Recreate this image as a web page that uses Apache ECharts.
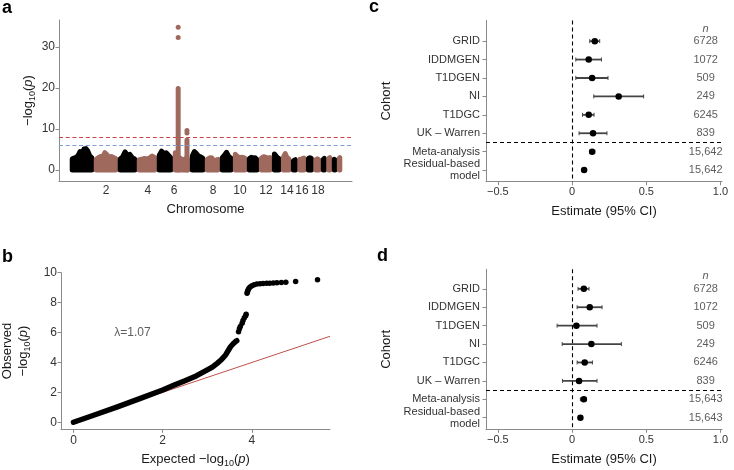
<!DOCTYPE html>
<html>
<head>
<meta charset="utf-8">
<script src="https://cdn.jsdelivr.net/npm/echarts@6/dist/echarts.min.js"></script>
<style>
  html, body { margin: 0; padding: 0; background: #fff; }
  #chart { width: 734px; height: 470px; }
</style>
</head>
<body>
<div id="chart"></div>
<script>
// ---------- a: Manhattan plot ----------
// width of each chromosome on the plot, Mb
const chromLen = [254, 254, 201, 212, 169, 180, 159, 159, 138, 148, 127, 138, 95, 106, 69, 90, 79, 79, 58, 58, 53, 53]
// upper edge of the point cloud along each chromosome, -log10(p)
const chromTops = [
  [2.7, 2.9, 3.1, 3.5, 4.5, 3.9, 5.1, 5.2, 4.6, 3.4, 3.0],
  [2.6, 3.0, 3.3, 3.2, 4.2, 3.7, 3.0, 3.3, 3.0, 2.8],
  [2.7, 3.2, 4.4, 3.6, 3.8, 3.0, 2.7],
  [2.5, 2.6, 2.8, 2.7, 2.9, 3.4, 3.0],
  [3.6, 4.6, 3.9, 4.2, 3.6, 3.0],
  [4.2, 3.4, 3.0, 2.6, 2.4, 2.8, 2.6],
  [3.4, 4.5, 4.0, 3.4, 3.2, 2.9],
  [2.6, 2.9, 3.0, 2.4, 2.3, 2.6],
  [3.0, 3.6, 4.3, 3.3, 2.9],
  [3.8, 3.2, 3.0, 3.1, 2.9],
  [2.8, 3.1, 2.9, 3.0, 2.6],
  [2.9, 3.2, 3.1, 2.9, 3.0],
  [3.9, 3.5, 3.0, 2.8],
  [3.1, 4.0, 3.0, 2.7],
  [2.2, 2.4, 2.5],
  [2.6, 2.7, 2.9],
  [2.8, 3.0, 2.8],
  [2.5, 2.7, 2.5],
  [2.6, 2.8],
  [2.8, 3.0],
  [2.6, 2.5],
  [2.9, 3.0]
]
const chromTickPos = [381, 825, 1101, 1513, 1799, 2074, 2296, 2455, 2624]
const chromTickLabel = ['2', '4', '6', '8', '10', '12', '14', '16', '18']
// chr6 columns and the isolated top hits
const spikePos = [1145, 1238]
const spikeTop = [19.9, 7.3]
const hitPos = [1145, 1145, 1238, 1238]
const hitLogP = [32.3, 34.8, 9.0, 9.6]
const sigLevels = [8, 6]

// ---------- b: QQ plot ----------
const qqExpected = [0, 0.5, 1.0, 1.5, 2.0, 2.26, 2.5, 2.75, 3.0, 3.12, 3.22, 3.32, 3.41, 3.52, 3.58, 3.63, 3.66]
const qqObserved = [0, 0.52, 1.05, 1.6, 2.16, 2.49, 2.78, 3.1, 3.5, 3.7, 3.94, 4.2, 4.5, 5.05, 5.25, 5.39, 5.45]
const tailExpected = [3.70, 3.72, 3.74, 3.78, 3.80, 3.83, 3.86, 3.87, 3.89, 3.90, 3.91, 3.93, 3.96, 4.00, 4.05, 4.11, 4.18, 4.25, 4.33, 4.40, 4.48, 4.56, 4.66, 4.76, 4.98, 5.47]
const tailObserved = [6.06, 6.25, 6.40, 6.62, 6.80, 6.98, 7.12, 7.22, 8.62, 8.72, 8.82, 8.95, 9.05, 9.13, 9.20, 9.24, 9.26, 9.27, 9.29, 9.30, 9.31, 9.33, 9.34, 9.36, 9.42, 9.53]
const lambdaText = 'λ=1.07'

// ---------- c, d: forest plots ----------
const cohorts = ['GRID', 'IDDMGEN', 'T1DGEN', 'NI', 'T1DGC', 'UK – Warren', 'Meta-analysis', 'Residual-based\nmodel']
const estC = [0.153, 0.112, 0.135, 0.314, 0.112, 0.141, 0.135, 0.081]
const loC = [0.119, 0.025, 0.025, 0.146, 0.070, 0.047, 0.119, 0.074]
const hiC = [0.186, 0.198, 0.242, 0.482, 0.148, 0.235, 0.153, 0.088]
const nC = ['6728', '1072', '509', '249', '6245', '839', '15,642', '15,642']
const estD = [0.079, 0.119, 0.029, 0.130, 0.085, 0.047, 0.079, 0.056]
const loD = [0.040, 0.034, -0.101, -0.067, 0.034, -0.065, 0.056, 0.045]
const hiD = [0.114, 0.202, 0.168, 0.332, 0.137, 0.168, 0.097, 0.068]
const nD = ['6728', '1072', '509', '249', '6246', '839', '15,643', '15,643']
const forestTicks = [-0.5, 0, 0.5, 1]
const forestTickLabels = ['−0.5', '0', '0.5', '1.0']

// ---------- styling ----------
const font = 'Liberation Sans'
const axisGray = '#8a8a8a'
const tickText = '#333'
const titleText = '#1a1a1a'
const brown = '#a0695e'
const nColX = 0.9

const subRich = {
  sub: { fontSize: 9, padding: [9, 0, 0, 0], color: titleText },
  it: { fontStyle: 'italic', fontSize: 13, color: titleText }
}

function baseAxis(gridIndex) {
  return {
    gridIndex,
    type: 'value',
    axisLine: { show: true, onZero: false, lineStyle: { color: axisGray, width: 1 } },
    axisTick: { show: true, length: 3.5, lineStyle: { color: axisGray } },
    splitLine: { show: false },
    axisLabel: { color: tickText, fontSize: 12, fontFamily: font },
    nameLocation: 'middle',
    nameTextStyle: { color: titleText, fontSize: 13, fontFamily: font, rich: subRich }
  }
}

// chromosome point clouds
const chromStart = []
let acc = 0
chromLen.forEach(len => { chromStart.push(acc); acc += len })
const chromData = chromLen.map((len, i) => [chromStart[i], chromStart[i] + len, i, 0])

function renderChrom(params, api) {
  const i = api.value(2)
  const s = api.value(0) + 24
  const e = api.value(1) - 24
  const tops = chromTops[i]
  const pts = [api.coord([s, 0])]
  tops.forEach((h, k) => {
    pts.push(api.coord([s + (e - s) * k / (tops.length - 1), h]))
  })
  pts.push(api.coord([e, 0]))
  const color = i % 2 === 0 ? '#000' : brown
  return {
    type: 'polygon',
    shape: { points: pts },
    style: { fill: color, stroke: color, lineWidth: 5, lineJoin: 'round' }
  }
}

function renderSpike(params, api) {
  const a = api.coord([api.value(0), 0])
  const b = api.coord([api.value(0), api.value(1)])
  return {
    type: 'line',
    shape: { x1: a[0], y1: a[1], x2: b[0], y2: b[1] },
    style: { stroke: brown, lineWidth: 5, lineCap: 'round' }
  }
}

function renderErrorBar(params, api) {
  const y = api.value(2)
  const a = api.coord([api.value(0), y])
  const b = api.coord([api.value(1), y])
  const st = { stroke: '#444', lineWidth: 1.8 }
  const cap = { stroke: '#444', lineWidth: 1 }
  return {
    type: 'group',
    children: [
      { type: 'line', shape: { x1: a[0], y1: a[1], x2: b[0], y2: b[1] }, style: st },
      { type: 'line', shape: { x1: a[0], y1: a[1] - 2, x2: a[0], y2: a[1] + 2 }, style: cap },
      { type: 'line', shape: { x1: b[0], y1: b[1] - 2, x2: b[0], y2: b[1] + 2 }, style: cap }
    ]
  }
}

function forestPanel(g, est, lo, hi, nVals, yMin) {
  const xAxis = Object.assign(baseAxis(g), {
    min: -0.58, max: 1.01,
    name: 'Estimate (95% CI)', nameGap: 23.5,
    axisTick: { show: true, length: 3.5, customValues: forestTicks, lineStyle: { color: axisGray } },
    axisLabel: {
      color: tickText, fontSize: 11, fontFamily: font, margin: 5,
      customValues: forestTicks,
      formatter: v => forestTickLabels[forestTicks.indexOf(v)]
    }
  })
  const rows = cohorts.map((c, i) => i + 1)
  const yAxis = Object.assign(baseAxis(g), {
    min: yMin, max: 8.63, inverse: true,
    name: 'Cohort', nameGap: 93.5,
    axisTick: { show: true, length: 3.5, customValues: rows, lineStyle: { color: axisGray } },
    axisLabel: {
      color: tickText, fontSize: 11, fontFamily: font, margin: 6, lineHeight: 11.8,
      hideOverlap: false,
      customValues: rows,
      formatter: v => cohorts[v - 1]
    }
  })
  const series = [
    {
      type: 'custom', xAxisIndex: g, yAxisIndex: g, z: 3,
      renderItem: renderErrorBar,
      encode: { x: [0, 1], y: 2 },
      data: est.map((e, i) => [lo[i], hi[i], i + 1])
    },
    {
      type: 'scatter', xAxisIndex: g, yAxisIndex: g, z: 4,
      symbolSize: 6.5, itemStyle: { color: '#000', opacity: 1 },
      data: est.map((e, i) => [e, i + 1]),
      markLine: {
        silent: true, symbol: 'none', label: { show: false },
        lineStyle: { type: [4, 3], color: '#000', width: 1.1 },
        data: [{ xAxis: 0 }, { yAxis: 6.5 }]
      }
    },
    {
      type: 'scatter', xAxisIndex: g, yAxisIndex: g, symbolSize: 0,
      data: nVals.map((n, i) => [nColX, i + 1]),
      label: {
        show: true, position: 'inside', color: tickText, fontSize: 11, fontFamily: font,
        formatter: p => nVals[p.dataIndex]
      }
    },
    {
      type: 'scatter', xAxisIndex: g, yAxisIndex: g, symbolSize: 0,
      data: [[nColX, 0.32]],
      label: {
        show: true, position: 'inside', color: tickText, fontSize: 11, fontFamily: font,
        fontStyle: 'italic', formatter: 'n'
      }
    }
  ]
  return { xAxis, yAxis, series }
}

const fc = forestPanel(2, estC, loC, hiC, nC, -0.12)
const fd = forestPanel(3, estD, loD, hiD, nD, -0.06)

function sigLine(level, color) {
  return {
    type: 'scatter', xAxisIndex: 0, yAxisIndex: 0, symbolSize: 0, data: [], z: 1,
    markLine: {
      silent: true, symbol: 'none', label: { show: false },
      lineStyle: { type: [4, 2.7], width: 1, color },
      data: [{ yAxis: level }]
    }
  }
}

const option = {
  animation: false,
  backgroundColor: '#fff',
  textStyle: { fontFamily: font },
  grid: [
    { left: 59, top: 20, width: 293, height: 161 },
    { left: 59.3, top: 272.7, width: 270.7, height: 156.6 },
    { left: 486, top: 20.5, width: 236, height: 161.2 },
    { left: 486, top: 269.3, width: 236, height: 160 }
  ],
  xAxis: [
    Object.assign(baseAxis(0), {
      min: -116, max: 2984,
      name: 'Chromosome', nameGap: 21.5,
      axisTick: { show: false },
      axisLabel: {
        color: tickText, fontSize: 12, fontFamily: font, margin: 4,
        customValues: chromTickPos,
        formatter: v => chromTickLabel[chromTickPos.indexOf(v)]
      }
    }),
    Object.assign(baseAxis(1), {
      min: -0.28, max: 5.75,
      name: 'Expected −log{sub|10}({it|p})', nameGap: 21,
      axisTick: { show: true, length: 3.5, customValues: [0, 2, 4], lineStyle: { color: axisGray } },
      axisLabel: { color: tickText, fontSize: 12, fontFamily: font, margin: 5, customValues: [0, 2, 4] }
    }),
    fc.xAxis,
    fd.xAxis
  ],
  yAxis: [
    Object.assign(baseAxis(0), {
      min: -2.7, max: 36.6,
      name: '−log{sub|10}({it|p})', nameGap: 22,
      axisTick: { show: true, length: 3.5, customValues: [0, 10, 20, 30], lineStyle: { color: axisGray } },
      axisLabel: { color: tickText, fontSize: 12, fontFamily: font, margin: 4, customValues: [0, 10, 20, 30] }
    }),
    Object.assign(baseAxis(1), {
      min: -0.47, max: 10,
      name: 'Observed\n−log{sub|10}({it|p})', nameGap: 29,
      axisTick: { show: true, length: 3.5, customValues: [0, 2, 4, 6, 8, 10], lineStyle: { color: axisGray } },
      axisLabel: { color: tickText, fontSize: 12, fontFamily: font, margin: 4, customValues: [0, 2, 4, 6, 8, 10] }
    }),
    fc.yAxis,
    fd.yAxis
  ],
  series: [
    // a
    sigLine(sigLevels[0], '#c9444c'),
    sigLine(sigLevels[1], '#7e9fd3'),
    {
      type: 'custom', xAxisIndex: 0, yAxisIndex: 0, z: 2,
      renderItem: renderChrom,
      encode: { x: [0, 1], y: 3 },
      data: chromData
    },
    {
      type: 'custom', xAxisIndex: 0, yAxisIndex: 0, z: 2,
      renderItem: renderSpike,
      encode: { x: 0, y: 1 },
      data: spikePos.map((p, k) => [p, spikeTop[k]])
    },
    {
      type: 'scatter', xAxisIndex: 0, yAxisIndex: 0, z: 2,
      symbolSize: 5, itemStyle: { color: brown, opacity: 1 },
      data: hitPos.map((p, k) => [p, hitLogP[k]])
    },
    // b
    {
      type: 'line', xAxisIndex: 1, yAxisIndex: 1, z: 1,
      showSymbol: false, lineStyle: { color: '#c0504d', width: 1 },
      data: [[0, 0], [5.75, 5.75]]
    },
    {
      type: 'line', xAxisIndex: 1, yAxisIndex: 1, z: 2,
      showSymbol: false,
      lineStyle: { color: '#000', width: 5.5, cap: 'round', join: 'round' },
      data: qqExpected.map((x, i) => [x, qqObserved[i]])
    },
    {
      type: 'scatter', xAxisIndex: 1, yAxisIndex: 1, z: 2,
      symbolSize: 5.5, itemStyle: { color: '#000', opacity: 1 },
      data: tailExpected.map((x, i) => [x, tailObserved[i]])
    },
    {
      type: 'scatter', xAxisIndex: 1, yAxisIndex: 1, symbolSize: 0,
      data: [[1.32, 5.97]],
      label: { show: true, position: 'inside', formatter: lambdaText, color: tickText, fontSize: 12, fontFamily: font }
    },
    ...fc.series,
    ...fd.series
  ],
  graphic: [
    { type: 'text', x: 2, y: 17, style: { text: 'a', fontSize: 18, fontWeight: 'bold', fontFamily: font, fill: '#000', verticalAlign: 'bottom' } },
    { type: 'text', x: 2, y: 266, style: { text: 'b', fontSize: 18, fontWeight: 'bold', fontFamily: font, fill: '#000', verticalAlign: 'bottom' } },
    { type: 'text', x: 369, y: 16.5, style: { text: 'c', fontSize: 18, fontWeight: 'bold', fontFamily: font, fill: '#000', verticalAlign: 'bottom' } },
    { type: 'text', x: 377, y: 265.5, style: { text: 'd', fontSize: 18, fontWeight: 'bold', fontFamily: font, fill: '#000', verticalAlign: 'bottom' } }
  ]
}

const chart = echarts.init(document.getElementById('chart'), null, { renderer: 'canvas' })
chart.setOption(option)
</script>
</body>
</html>
